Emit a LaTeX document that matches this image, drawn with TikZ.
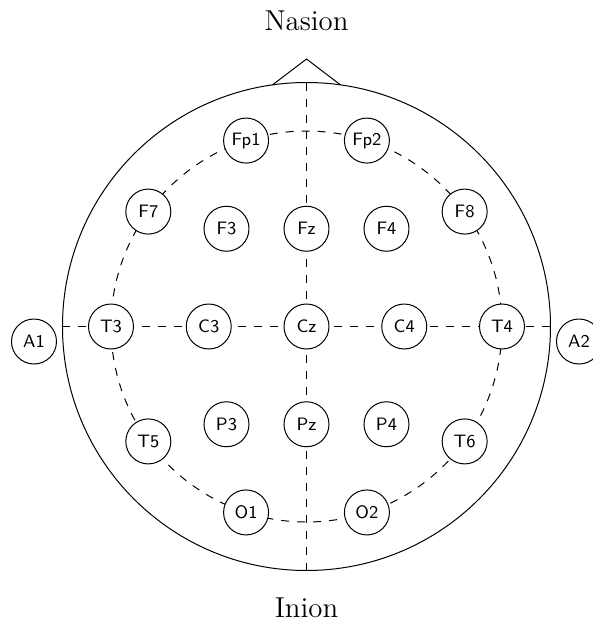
\documentclass[tikz,border=0pt]{standalone}
\begin{document}
\begin{tikzpicture}[x=0.5pt,y=0.5pt,line width=0.5pt,
  electrode/.style={circle,draw,fill=white,minimum size=22.5pt,inner sep=0pt,
    font=\fontsize{9}{10.8}\selectfont\sffamily},
  guide/.style={dash pattern=on 4pt off 4pt},
  landmark/.style={anchor=base,font=\Large}]
\useasboundingbox (-306.5,-296.5) rectangle (286.5,326.5);
% guide coordinates
\coordinate (L) at (180:244);
\coordinate (R) at (0:244);
\coordinate (Top) at (90:244);
\coordinate (Bot) at (270:244);
\coordinate (NL) at (98:244);
\coordinate (NR) at (82:244);
\coordinate (Apex) at (0,267.5);
% head and nose
\draw (0,0) circle[radius=122pt];
\draw (NL) -- (Apex) -- (NR);
% dashed guides
\draw[guide] (L) -- (R);
\draw[guide] (Top) -- (Bot);
\draw[guide] (0,0) circle[radius=97.75pt];
% electrodes on the outer ring
\node[electrode] (Fp1) at (108:195.5) {Fp1};
\node[electrode] (Fp2) at (72:195.5) {Fp2};
\node[electrode] (F7) at (144:195.5) {F7};
\node[electrode] (F8) at (36:195.5) {F8};
\node[electrode] (T3) at (180:195.5) {T3};
\node[electrode] (T4) at (0:195.5) {T4};
\node[electrode] (T5) at (216:195.5) {T5};
\node[electrode] (T6) at (-36:195.5) {T6};
\node[electrode] (O1) at (252:195.5) {O1};
\node[electrode] (O2) at (-72:195.5) {O2};
% inner electrodes
\node[electrode] (F3) at (-80,97.75) {F3};
\node[electrode] (Fz) at (0,97.75) {Fz};
\node[electrode] (F4) at (80,97.75) {F4};
\node[electrode] (C3) at (-97.75,0) {C3};
\node[electrode] (Cz) at (0,0) {Cz};
\node[electrode] (C4) at (97.75,0) {C4};
\node[electrode] (P3) at (-80,-97.75) {P3};
\node[electrode] (Pz) at (0,-97.75) {Pz};
\node[electrode] (P4) at (80,-97.75) {P4};
% ears
\node[electrode] (A1) at (-272.5,-15) {A1};
\node[electrode] (A2) at (272.5,-15) {A2};
% labels
\node[landmark] (nasion) at (0,296.5) {Nasion};
\node[landmark] (inion) at (0,-290.5) {Inion};
\end{tikzpicture}
\end{document}
